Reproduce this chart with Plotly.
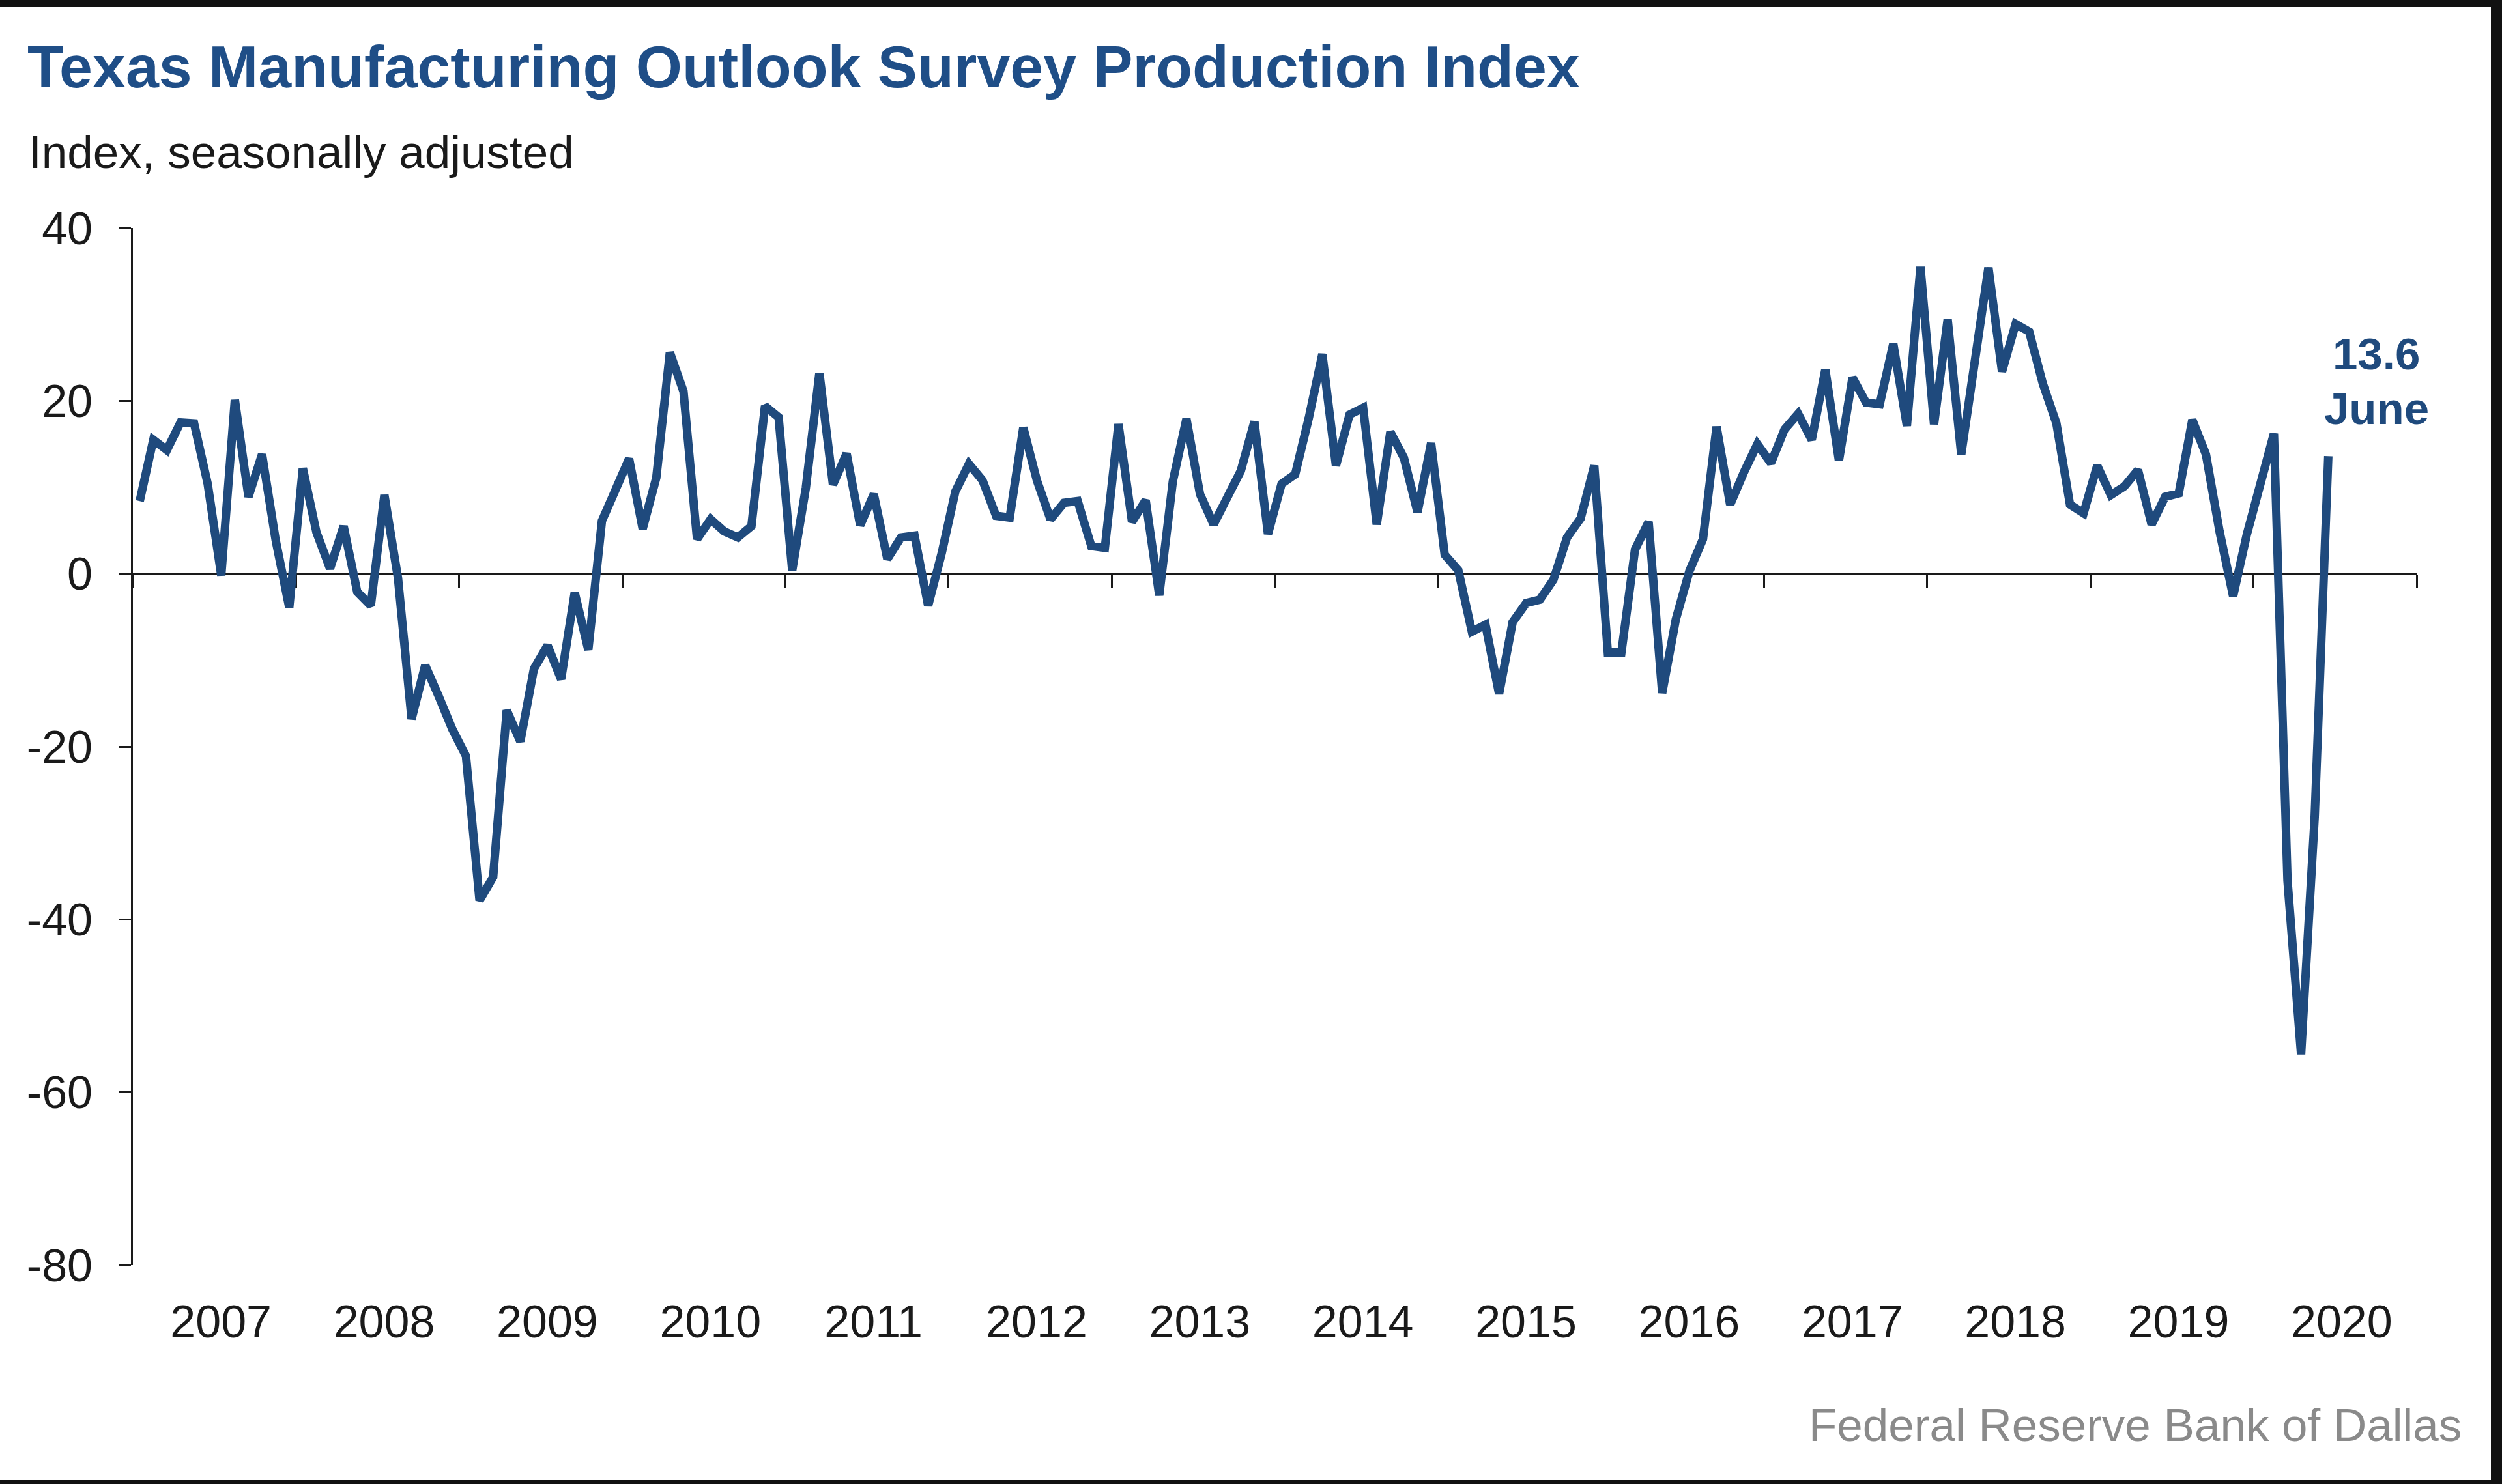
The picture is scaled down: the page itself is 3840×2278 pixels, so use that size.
import pandas as pd
import plotly.graph_objects as go

# ---- data: Texas Manufacturing Outlook Survey production index, monthly, Jan 2007 - Jun 2020
production = [
    # 2007
    8.4, 15.5, 14.3, 17.5, 17.4, 10.4, -0.2, 20.1, 8.9, 13.8, 3.9, -3.9,
    # 2008
    12.2, 4.8, 0.6, 5.5, -2.1, -3.7, 9.1, -0.5, -16.8, -10.6, -14.2, -18.0,
    # 2009
    -21.1, -37.8, -35.1, -15.8, -19.4, -11.0, -8.3, -12.2, -2.2, -8.8, 6.1, 9.5,
    # 2010
    13.3, 5.2, 11.1, 25.6, 21.1, 4.0, 6.3, 4.9, 4.2, 5.5, 19.4, 18.1,
    # 2011
    0.4, 9.9, 23.2, 10.3, 13.9, 5.6, 9.2, 1.7, 4.2, 4.4, -3.7, 2.4,
    # 2012
    9.5, 12.7, 10.8, 6.7, 6.5, 16.9, 10.8, 6.3, 8.2, 8.4, 3.2, 3.0,
    # 2013
    17.3, 6.0, 8.5, -2.5, 10.7, 17.9, 9.2, 5.7, 8.6, 11.9, 17.6, 4.6,
    # 2014
    10.4, 11.5, 18.0, 25.4, 12.5, 18.4, 19.2, 5.7, 16.4, 13.4, 7.1, 15.1,
    # 2015
    2.2, 0.4, -6.7, -5.9, -13.9, -5.6, -3.4, -3.0, -0.7, 4.2, 6.4, 12.5,
    # 2016
    -9.1, -9.1, 2.8, 6.0, -13.8, -5.3, 0.3, 4.0, 17.0, 8.0, 11.7, 15.0,
    # 2017
    12.8, 16.7, 18.5, 15.5, 23.6, 13.1, 22.7, 19.8, 19.6, 26.6, 17.1, 35.5,
    # 2018
    17.3, 29.4, 13.8, 24.5, 35.4, 23.4, 28.9, 28.0, 22.0, 17.4, 8.0, 7.0,
    # 2019
    12.5, 9.1, 10.1, 12.0, 5.7, 8.9, 9.3, 17.8, 13.8, 4.9, -2.6, 4.5,
    # 2020
    10.5, 16.2, -35.5, -55.6, -28.1, 13.6,
]
months = pd.period_range("2007-01", periods=len(production), freq="M")
years = list(range(2007, 2021))
year_labels = [str(y) for y in years]
y_ticks = [-80, -60, -40, -20, 0, 20, 40]
y_tick_labels = ["-80", "-60", "-40", "-20", "0", "20", "40"]

latest_label = "13.6"
latest_month = "June"

# ---- styling
LINE = "#1f4a7d"
TITLE = "#1f4e87"
FONT = "Liberation Sans, Arial, sans-serif"
W, H = 3840, 2278
L, R, T, B = 204, 3840 - 3709, 350, 2278 - 1942
PW, PH = W - L - R, H - T - B


def px_x(p):
    return (p - L) / PW


def px_y(p):
    return (H - B - p) / PH


# month centres as fractional years (equal-width categories)
xvals = [m.year + (m.month - 0.5) / 12 for m in months]

fig = go.Figure()
# invisible trace to anchor the labelled axis
fig.add_trace(go.Scatter(x=xvals, y=production, mode="lines",
                         line=dict(width=0, color="rgba(0,0,0,0)"),
                         hoverinfo="skip", showlegend=False,
                         xaxis="x", yaxis="y"))
fig.add_trace(go.Scatter(x=xvals, y=production, mode="lines",
                         line=dict(color=LINE, width=13, shape="linear"),
                         showlegend=False, xaxis="x2", yaxis="y"))

fig.update_layout(
    width=W, height=H,
    margin=dict(l=L, r=R, t=T, b=B),
    paper_bgcolor="white", plot_bgcolor="white",
    font=dict(family=FONT, color="#1a1a1a", size=69),
    xaxis=dict(
        range=[2007, 2021], showgrid=False, zeroline=False, showline=False,
        tickmode="array", tickvals=[y + 0.54 for y in years], ticktext=year_labels,
        ticks="", tickfont=dict(size=70, color="#1a1a1a"),
        ticklabelstandoff=40,
    ),
    xaxis2=dict(
        range=[2007, 2021], overlaying="x", matches="x", anchor="free",
        position=(0 - (-80)) / 120, side="bottom",
        showgrid=False, zeroline=False, showline=True, linecolor="#1a1a1a", linewidth=3,
        ticks="outside", ticklen=20, tickwidth=3, tickcolor="#1a1a1a",
        tickmode="array", tickvals=years + [2021], showticklabels=False,
        layer="below traces",
    ),
    yaxis=dict(
        range=[-80, 40], showgrid=False, zeroline=False, showline=True,
        linecolor="#1a1a1a", linewidth=3, ticks="outside", ticklen=18, tickwidth=3,
        tickcolor="#1a1a1a", tickmode="array", tickvals=y_ticks, ticktext=y_tick_labels,
        tickfont=dict(size=70, color="#1a1a1a"), ticklabelstandoff=27,
    ),
)

annotations = [
    dict(text="<b>Texas Manufacturing Outlook Survey Production Index</b>",
         x=px_x(40), y=px_y(102), xref="paper", yref="paper",
         xanchor="left", yanchor="middle", showarrow=False,
         font=dict(size=91.5, color=TITLE, family=FONT)),
    dict(text="Index, seasonally adjusted",
         x=px_x(42), y=px_y(234), xref="paper", yref="paper",
         xanchor="left", yanchor="middle", showarrow=False,
         font=dict(size=71, color="#1a1a1a", family=FONT)),
    dict(text="Federal Reserve Bank of Dallas",
         x=px_x(3780), y=px_y(2187), xref="paper", yref="paper",
         xanchor="right", yanchor="middle", showarrow=False,
         font=dict(size=71, color="#8a8a8a", family=FONT)),
    dict(text=f"<b>{latest_label}</b>",
         x=px_x(3647), y=px_y(544), xref="paper", yref="paper",
         xanchor="center", yanchor="middle", showarrow=False,
         font=dict(size=69, color=LINE, family=FONT)),
    dict(text=f"<b>{latest_month}</b>",
         x=px_x(3647), y=px_y(627), xref="paper", yref="paper",
         xanchor="center", yanchor="middle", showarrow=False,
         font=dict(size=69, color=LINE, family=FONT)),
]
fig.update_layout(annotations=annotations)

# black frame edges visible in the reference screenshot
shapes = [
    dict(type="rect", xref="paper", yref="paper", x0=px_x(-10), x1=px_x(W + 10),
         y0=px_y(11), y1=px_y(-10), fillcolor="#111111", line=dict(width=0), layer="above"),
    dict(type="rect", xref="paper", yref="paper", x0=px_x(3823), x1=px_x(W + 10),
         y0=px_y(H + 10), y1=px_y(-10), fillcolor="#111111", line=dict(width=0), layer="above"),
    dict(type="rect", xref="paper", yref="paper", x0=px_x(-10), x1=px_x(W + 10),
         y0=px_y(H + 10), y1=px_y(2272), fillcolor="#111111", line=dict(width=0), layer="above"),
]
fig.update_layout(shapes=shapes)

fig.write_html(
    "out.html",
    config={"displayModeBar": False},
    post_script="document.body.style.margin='0';document.body.style.overflow='hidden';",
)
